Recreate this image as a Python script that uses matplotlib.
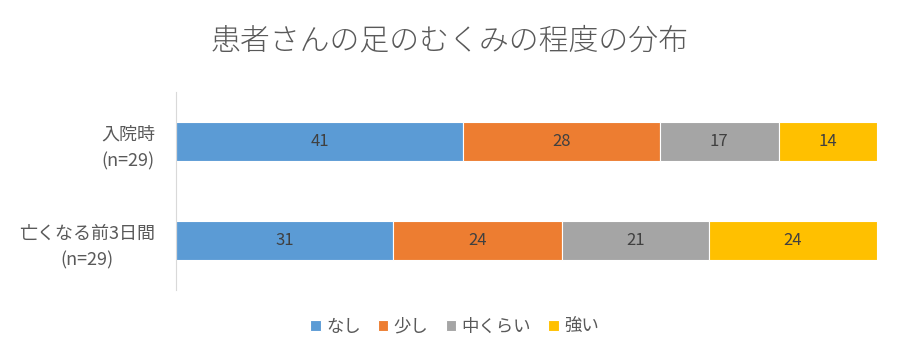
import matplotlib
matplotlib.use("Agg")
import matplotlib.pyplot as plt

plt.rcParams['font.family'] = ['Noto Sans CJK JP', 'DejaVu Sans']

# data
categories = ['入院時\n(n=29)', '亡くなる前3日間\n(n=29)']
series_names = ['なし', '少し', '中くらい', '強い']
values = {
    'なし': [41, 31],
    '少し': [28, 24],
    '中くらい': [17, 21],
    '強い': [14, 24],
}
colors = ['#5B9BD5', '#ED7D31', '#A5A5A5', '#FFC000']

fig = plt.figure(figsize=(9, 3.6), dpi=100)
ax = fig.add_axes([0.1956, 0.194, 0.7788, 0.55])

ypos = [1, 0]
left = [0, 0]
for name, c in zip(series_names, colors):
    vals = values[name]
    ax.barh(ypos, vals, left=left, height=0.4, color=c, label=name,
            edgecolor='white', linewidth=0.8)
    for y, l, v in zip(ypos, left, vals):
        ax.text(l + v / 2, y, str(v), ha='center', va='center',
                fontsize=12, color='#404040')
    left = [l + v for l, v in zip(left, vals)]

ax.set_xlim(0, 100)
ax.set_ylim(-0.5, 1.5)
ax.set_yticks(ypos)
ax.set_yticklabels(categories, fontsize=13, color='#595959', linespacing=1.6,
                   multialignment='center')
ax.tick_params(axis='y', length=0, pad=15)
ax.set_xticks([])
for s in ['top', 'right', 'bottom']:
    ax.spines[s].set_visible(False)
ax.spines['left'].set_color('#D9D9D9')

fig.text(0.5, 0.885, '患者さんの足のむくみの程度の分布', ha='center', va='center',
         fontsize=21.5, color='#595959', fontweight='light')

leg = fig.legend(loc='center', bbox_to_anchor=(0.505, 0.092), ncol=4,
                 frameon=False, fontsize=12.5, handlelength=0.6, handleheight=0.6,
                 handletextpad=0.3, columnspacing=1.0)
for t in leg.get_texts():
    t.set_color('#595959')

fig.savefig('out.png', dpi=100)
